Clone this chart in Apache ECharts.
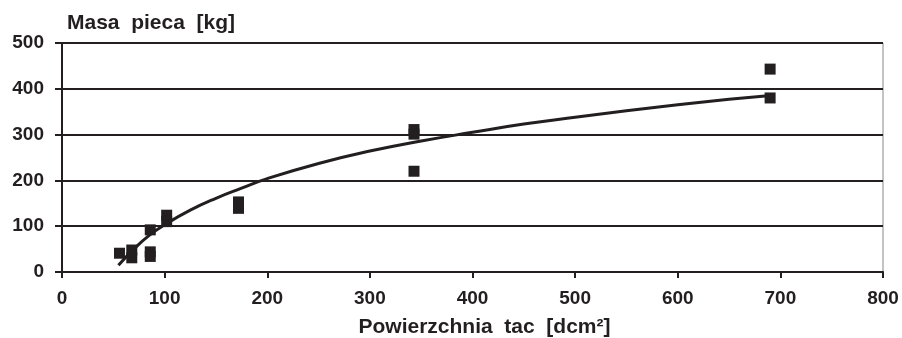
<!DOCTYPE html>
<html>
<head>
<meta charset="utf-8">
<script src="https://cdn.jsdelivr.net/npm/echarts@6/dist/echarts.min.js"></script>
<style>
  html, body { margin: 0; padding: 0; background: #fff; }
  #chart { width: 902px; height: 338px; }
</style>
</head>
<body>
<div id="chart"></div>
<script>
// pomiary: powierzchnia tac [dcm2] -> masa pieca [kg]
const areaX = [56, 68, 68, 86, 86, 86, 102, 102, 172, 172, 343, 343, 343, 690, 690]
const massY = [41, 48, 31, 92, 44, 34, 124, 110, 153, 139, 311, 301, 220, 443, 380]

// linia trendu
const trendX = [55, 70, 85, 100, 125, 150, 175, 200, 250, 300, 350, 400, 450, 500, 550, 600, 650, 688]
const trendY = [15, 50, 80, 103, 135, 161, 183, 204, 237, 264, 286, 305, 323, 338, 352, 365, 377, 385]

const xTicks = [0, 100, 200, 300, 400, 500, 600, 700, 800]
const yTicks = [0, 100, 200, 300, 400, 500]

const ink = '#231f20'
const font = 'Liberation Sans, Arial, sans-serif'

const chart = echarts.init(document.getElementById('chart'))

chart.setOption({
  animation: false,
  title: {
    text: 'Masa  pieca  [kg]',
    left: 62,
    top: 8,
    textStyle: { fontFamily: font, fontWeight: 'bold', fontSize: 21, color: ink }
  },
  grid: {
    left: 62,
    top: 43,
    right: 19,
    bottom: 66,
    outerBoundsMode: 'none',
    containLabel: false,
    show: true,
    borderColor: '#888',
    borderWidth: 1
  },
  xAxis: {
    type: 'value',
    min: xTicks[0],
    max: xTicks[xTicks.length - 1],
    interval: 100,
    name: 'Powierzchnia  tac  [dcm²]',
    nameLocation: 'middle',
    nameGap: 45,
    nameTextStyle: { fontFamily: font, fontWeight: 'bold', fontSize: 21, color: ink, padding: [0, 0, 0, 24] },
    axisLine: { show: true, onZero: false, lineStyle: { color: ink, width: 2 } },
    axisTick: { show: true, length: 6, lineStyle: { color: ink, width: 2 } },
    axisLabel: { margin: 17, fontFamily: font, fontWeight: 'bold', fontSize: 19, color: ink },
    splitLine: { show: false }
  },
  yAxis: {
    type: 'value',
    min: yTicks[0],
    max: yTicks[yTicks.length - 1],
    interval: 100,
    axisLine: { show: true, lineStyle: { color: ink, width: 2 } },
    axisTick: { show: true, length: 7, lineStyle: { color: ink, width: 2 } },
    axisLabel: { margin: 18, fontFamily: font, fontWeight: 'bold', fontSize: 19, color: ink },
    splitLine: { show: true, lineStyle: { color: ink, width: 2 } }
  },
  series: [
    {
      type: 'line',
      data: trendX.map((x, i) => [x, trendY[i]]),
      smooth: true,
      showSymbol: false,
      lineStyle: { color: ink, width: 3 },
      z: 3
    },
    {
      type: 'scatter',
      data: areaX.map((x, i) => [x, massY[i]]),
      symbol: 'rect',
      symbolSize: 11,
      itemStyle: { color: ink, opacity: 1 },
      z: 4
    }
  ]
})
</script>
</body>
</html>
